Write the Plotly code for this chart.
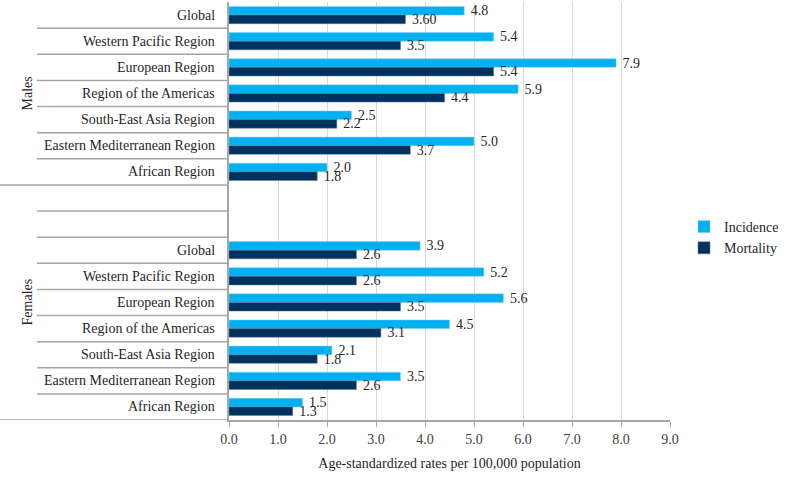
import plotly.graph_objects as go

regions = ["Global", "Western Pacific Region", "European Region", "Region of the Americas",
           "South-East Asia Region", "Eastern Mediterranean Region", "African Region"]
groups = ["Males", "Females"]
male_incidence = [4.8, 5.4, 7.9, 5.9, 2.5, 5.0, 2.0]
male_mortality = [3.60, 3.5, 5.4, 4.4, 2.2, 3.7, 1.8]
male_mortality_labels = ["3.60", "3.5", "5.4", "4.4", "2.2", "3.7", "1.8"]
female_incidence = [3.9, 5.2, 5.6, 4.5, 2.1, 3.5, 1.5]
female_mortality = [2.6, 2.6, 3.5, 3.1, 1.8, 2.6, 1.3]
x_ticks = [0, 1, 2, 3, 4, 5, 6, 7, 8, 9]
x_tick_labels = ["0.0", "1.0", "2.0", "3.0", "4.0", "5.0", "6.0", "7.0", "8.0", "9.0"]

n = len(regions)
blank = 2
male_pos = list(range(n))
female_pos = [n + blank + i for i in range(n)]
total_rows = n + blank + n

FONT = "Liberation Serif, Times New Roman, serif"
FS = 14
C_INC = "#00B0F0"
C_MOR = "#00325F"
TXT = "#262626"

ypos = male_pos + female_pos
inc = male_incidence + female_incidence
mor = male_mortality + female_mortality
inc_lbl = ["%.1f" % v for v in inc]
mor_lbl = male_mortality_labels + ["%.1f" % v for v in female_mortality]

fig = go.Figure()
fig.add_trace(go.Bar(
    name="Incidence", y=ypos, x=inc, orientation="h",
    marker=dict(color=C_INC, line=dict(color="#7FD7F7", width=0.5)),
    text=[" " + t for t in inc_lbl], textposition="outside", cliponaxis=False,
    constraintext="none", textfont=dict(family=FONT, size=FS, color=TXT),
))
fig.add_trace(go.Bar(
    name="Mortality", y=ypos, x=mor, orientation="h",
    marker=dict(color=C_MOR, line=dict(color="#5A7896", width=0.5)),
    text=[" " + t for t in mor_lbl], textposition="outside", cliponaxis=False,
    constraintext="none", textfont=dict(family=FONT, size=FS, color=TXT),
))

L, R, T, B = 229, 119, 2, 68
W, H = 789, 488
pw = W - L - R
ph = H - T - B

annotations = []
for p, r in zip(male_pos + female_pos, regions + regions):
    annotations.append(dict(x=0, xref="paper", y=p, yref="y", text=r, showarrow=False,
                            xanchor="right", xshift=-12, font=dict(family=FONT, size=FS, color=TXT)))
gx = (17.5 - L) / pw
annotations.append(dict(x=gx, xref="paper", y=(male_pos[0] + male_pos[-1]) / 2, yref="y", text=groups[0],
                        textangle=-90, showarrow=False, font=dict(family=FONT, size=FS, color=TXT)))
annotations.append(dict(x=gx, xref="paper", y=(n - 0.5 + total_rows - 0.5) / 2, yref="y", text=groups[1],
                        textangle=-90, showarrow=False, font=dict(family=FONT, size=FS, color=TXT)))

shapes = []
inner_x0 = (37 - L) / pw
outer_x0 = (0 - L) / pw
LC = "#A6A6A6"
for k in range(total_rows - 1):
    b = k + 0.5
    x0 = outer_x0 if k == n - 1 else inner_x0
    shapes.append(dict(type="line", xref="paper", yref="y", x0=x0, x1=0, y0=b, y1=b,
                       line=dict(color=LC, width=1.5)))
shapes.append(dict(type="line", xref="paper", yref="y", x0=outer_x0, x1=0, y0=total_rows - 0.5,
                   y1=total_rows - 0.5, line=dict(color=LC, width=1.5)))

fig.update_layout(
    width=W, height=H,
    margin=dict(l=L, r=R, t=T, b=B, autoexpand=False),
    paper_bgcolor="white", plot_bgcolor="white",
    barmode="group", bargap=0.34, bargroupgap=0,
    showlegend=True,
    legend=dict(x=(684 - L) / pw, y=(H - B - 211) / ph, xanchor="left", yanchor="top",
                xref="paper", yref="paper", traceorder="normal",
                font=dict(family=FONT, size=FS, color=TXT), itemwidth=30,
                bgcolor="rgba(0,0,0,0)"),
    annotations=annotations,
    shapes=shapes,
    font=dict(family=FONT, size=FS, color=TXT),
)
fig.update_xaxes(
    range=[0, 9], tickvals=x_ticks, ticktext=x_tick_labels,
    showgrid=True, gridcolor="#D9D9D9", gridwidth=1,
    showline=True, linecolor=LC, linewidth=1.5,
    ticks="outside", ticklen=5, tickcolor=LC,
    zeroline=False,
    tickfont=dict(family=FONT, size=FS, color="#404040"),
    title=dict(text="Age-standardized rates per 100,000 population", standoff=13,
               font=dict(family=FONT, size=FS, color=TXT)),
)
fig.update_yaxes(
    range=[total_rows - 0.5, -0.5], showticklabels=False, showgrid=False,
    zeroline=False, showline=True, linecolor=LC, linewidth=1.5, ticks="",
)

fig.write_html("out.html", config={"displayModeBar": False},
               post_script="document.body.style.margin='0';document.body.style.overflow='hidden';")
